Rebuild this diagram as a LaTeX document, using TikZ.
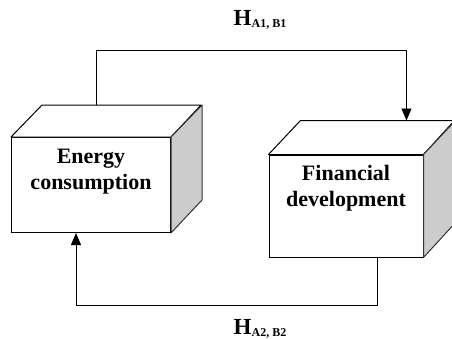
\documentclass[tikz,border=0pt]{standalone}
\usepackage{fontspec}
\setmainfont{Liberation Serif}
\usetikzlibrary{arrows.meta,calc,positioning}

\begin{document}
\begin{tikzpicture}[x=1pt, y=1pt,
    front/.style={rectangle, draw=black, line width=1pt, fill=white, inner sep=0pt},
    topface/.style={draw=black, line width=1pt, fill=white, line join=round},
    sideface/.style={draw=black!80, line width=1pt, fill=black!20, line join=round},
    boxtext/.style={align=center, font=\fontsize{22}{26}\selectfont\bfseries, inner sep=0pt},
    link/.style={draw=black, line width=0.9pt},
    hyp/.style={font=\fontsize{23}{23}\selectfont\bfseries, inner sep=0pt},]
    \useasboundingbox (0,0) rectangle (452,338);

    % energy consumption box
    \node (energy) [front, minimum width=159pt, minimum height=95pt] at (91,153) {};
    \draw [topface] (energy.north west) -- ++(31,32) -- ++(159,0) -- (energy.north east) -- cycle;
    \draw [sideface] (energy.north east) -- ++(31,32) -- ++(0,-95) -- (energy.south east) -- cycle;
    \node (energytext) [boxtext, below=12pt of energy.north] {Energy\\consumption};

    % financial development box
    \node (finance) [front, minimum width=154pt, minimum height=102pt] at (346,132) {};
    \draw [topface] (finance.north west) -- ++(32,34) -- ++(154,0) -- (finance.north east) -- cycle;
    \draw [sideface] (finance.north east) -- ++(32,34) -- ++(0,-102) -- (finance.south east) -- cycle;
    \node (financetext) [boxtext, below=11pt of finance.north] {Financial\\development};

    \coordinate (energytop) at ($(energy.north west)+(85,32)$);
    \coordinate (financetop) at ($(finance.north west)+(138,34)$);
    \coordinate (financebottom) at ($(finance.south west)+(109,0)$);
    \coordinate (energybottom) at ($(energy.south west)+(65,0)$);

    \draw [link, -{Triangle[length=12pt,width=10pt]}] (energytop) -- ++(0,55) -| (financetop);
    \draw [link, -{Triangle[length=12pt,width=10pt]}] (financebottom) -- ++(0,-48) -| (energybottom);

    \node (hone) [hyp, anchor=base] at (260,312) {H\raisebox{-2pt}{\fontsize{12}{12}\selectfont A1, B1}};
    \node (htwo) [hyp, anchor=base] at (260,4) {H\raisebox{-2pt}{\fontsize{12}{12}\selectfont A2, B2}};
\end{tikzpicture}
\end{document}
